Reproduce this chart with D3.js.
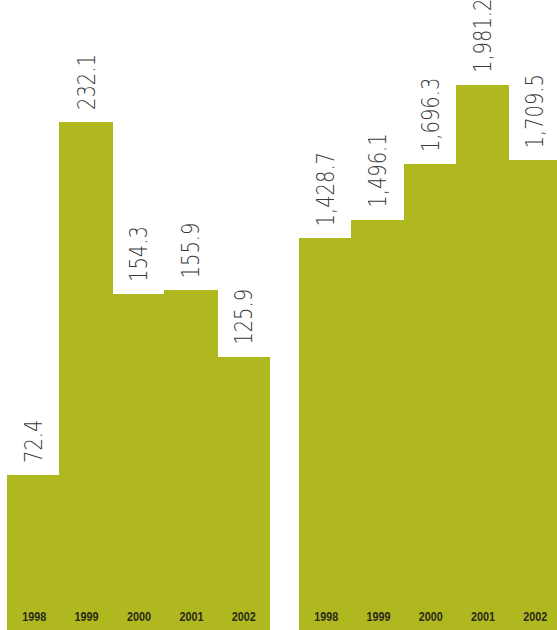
<!DOCTYPE html>
<html>
<head>
<meta charset="utf-8">
<script src="https://cdn.jsdelivr.net/npm/d3@7"></script>
<style>
  body { margin: 0; background: #fff; }
  svg { display: block; }
</style>
</head>
<body>
<svg id="chart" width="557" height="630"></svg>
<script>
const years = ["1998", "1999", "2000", "2001", "2002"];
const leftValues = [72.4, 232.1, 154.3, 155.9, 125.9];
const rightValues = [1428.7, 1496.1, 1696.3, 1981.2, 1709.5];
const leftLabels = ["72.4", "232.1", "154.3", "155.9", "125.9"];
const rightLabels = ["1,428.7", "1,496.1", "1,696.3", "1,981.2", "1,709.5"];

const barColor = "#afb81e";
const svg = d3.select("#chart");
const baseline = 635;

function drawPanel(values, labels, x0, x1, topY) {
    let g = svg.append("g");

    let x = d3.scaleBand().domain(years).range([x0, x1]).padding(0);
    let y = d3.scaleLinear().domain([0, d3.max(values)]).range([baseline, topY]);

    let data = years.map((yr, i) => ({year: yr, value: values[i], label: labels[i]}));

    // bars touch each other, crisp edges so no seams show
    g.selectAll(".bar")
        .data(data)
        .join("rect")
        .attr("class", "bar")
        .attr("x", d => Math.round(x(d.year)))
        .attr("y", d => Math.round(y(d.value)))
        .attr("width", d => Math.round(x(d.year) + x.bandwidth()) - Math.round(x(d.year)) + 1)
        .attr("height", d => baseline - Math.round(y(d.value)))
        .attr("shape-rendering", "crispEdges")
        .attr("fill", barColor);

    // value labels, rotated, sitting above each bar
    g.selectAll(".val")
        .data(data)
        .join("text")
        .attr("class", "val")
        .attr("transform", d => `translate(${x(d.year) + x.bandwidth() / 2 + 9},${y(d.value) - 12}) rotate(-90) scale(0.78,1)`)
        .attr("font-family", "'DejaVu Sans', sans-serif")
        .attr("font-weight", 200)
        .attr("font-size", 25)
        .attr("fill", "#3a3a3a")
        .text(d => d.label);

    // year labels at bottom
    g.selectAll(".yr")
        .data(data)
        .join("text")
        .attr("class", "yr")
        .attr("transform", d => `translate(${x(d.year) + x.bandwidth() / 2 + 1},621) scale(0.8,1)`)
        .attr("text-anchor", "middle")
        .attr("font-family", "'Liberation Sans', Arial, sans-serif")
        .attr("font-weight", "bold")
        .attr("font-size", 13.5)
        .attr("fill", "#2a2a1a")
        .text(d => d.year);
}

drawPanel(leftValues, leftLabels, 7, 269, 122);
drawPanel(rightValues, rightLabels, 299, 560.5, 85);
</script>
</body>
</html>
